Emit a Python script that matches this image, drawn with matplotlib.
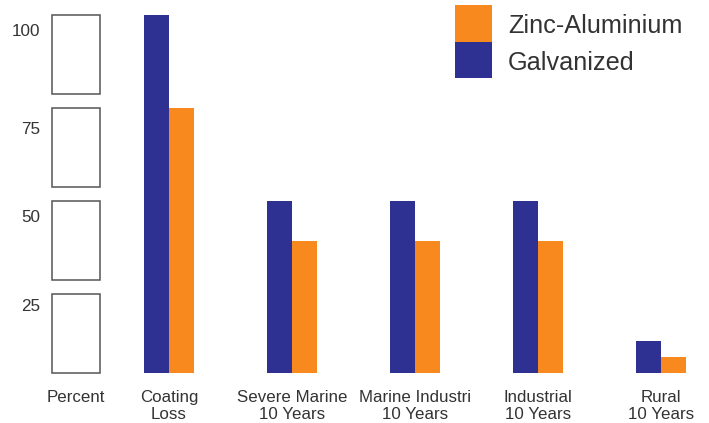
import matplotlib
matplotlib.use("Agg")
import matplotlib.pyplot as plt
from matplotlib.patches import Rectangle

plt.rcParams['font.family'] = ['Liberation Sans', 'DejaVu Sans']

categories = ["Coating\nLoss", "Severe Marine\n10 Years", "Marine Industri\n10 Years",
              "Industrial\n10 Years", "Rural\n10 Years"]
galvanized = [100, 48, 48, 48, 9]
zinc_al = [74, 37, 37, 37, 4.5]
tick_labels = ["100", "75", "50", "25"]
tick_pos = [95.5, 67.9, 43.3, 18.7]
box_spans = [(0, 22), (26, 48), (52, 74), (78, 100)]
percent_label = "Percent"

W, H = 709, 423
fig = plt.figure(figsize=(W / 100, H / 100), dpi=100)
ax = fig.add_axes([0, 0, 1, 1])
px_per_x = 123.0
x0_px = 169.0
base_px = 373.0
px_per_y = 3.58
ax.set_xlim((0 - x0_px) / px_per_x + 1, (W - x0_px) / px_per_x + 1)
ax.set_ylim(-(H - base_px) / px_per_y, base_px / px_per_y)
ax.axis('off')

blue = "#2E3192"
orange = "#F7891F"
txt = "#333333"

xs = list(range(1, len(categories) + 1))
bw = 0.2
ax.bar([x - bw / 2 for x in xs], galvanized, width=bw, color=blue, linewidth=0)
ax.bar([x + bw / 2 for x in xs], zinc_al, width=bw, color=orange, linewidth=0)

# Percent column
xp = (76 - x0_px) / px_per_x + 1
box_w = 48 / px_per_x
for lo, hi in box_spans:
    ax.add_patch(Rectangle((xp - box_w / 2, lo), box_w, hi - lo, facecolor='white',
                           edgecolor='#555555', linewidth=1.1))
xt = (40 - x0_px) / px_per_x + 1
for lab, p in zip(tick_labels, tick_pos):
    ax.text(xt, p, lab, ha='right', va='center', fontsize=12.3, color=txt)

label_y = -(389.5 - base_px) / px_per_y
ax.text(xp, label_y, percent_label, ha='center', va='top', fontsize=12.2, color=txt)
for x, c in zip(xs, categories):
    ax.text(x, label_y, c, ha='center', va='top', fontsize=12.2, color=txt, linespacing=1.22)

# Legend
def fx(px):
    return px / W
def fy(py):
    return 1 - py / H
fig.patches.append(Rectangle((fx(455), fy(42)), 37 / W, 37 / H, transform=fig.transFigure,
                             facecolor=orange, linewidth=0))
fig.patches.append(Rectangle((fx(455), fy(78)), 37 / W, 36 / H, transform=fig.transFigure,
                             facecolor=blue, linewidth=0))
fig.text(fx(508), fy(26), "Zinc-Aluminium", ha='left', va='center', fontsize=18.2, color=txt)
fig.text(fx(508), fy(63), "Galvanized", ha='left', va='center', fontsize=18.2, color=txt)

fig.savefig("out.png", dpi=100)
